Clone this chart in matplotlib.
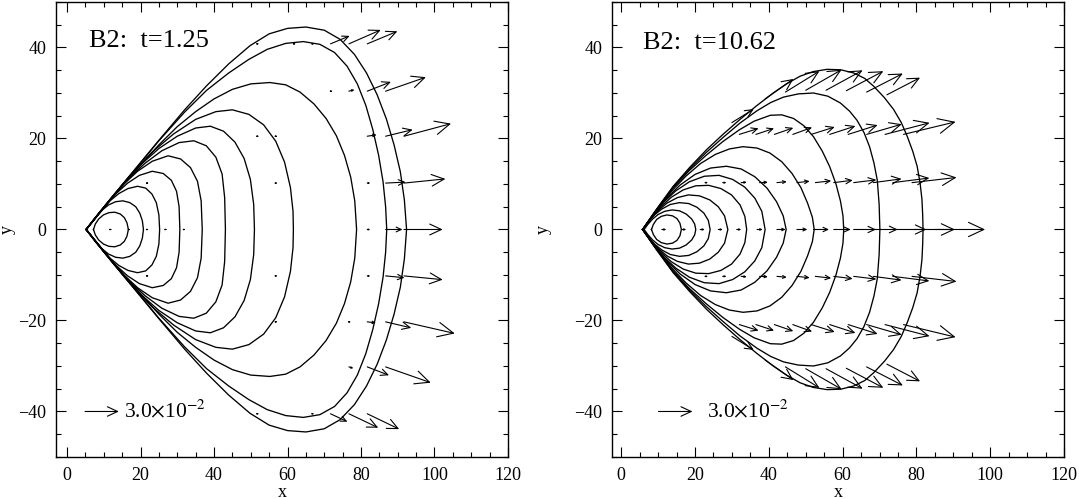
import matplotlib
matplotlib.use('Agg')
import math
import matplotlib.pyplot as plt
from matplotlib.patches import FancyArrowPatch
from matplotlib.ticker import MultipleLocator

plt.rcParams['font.family'] = ['Liberation Serif', 'DejaVu Serif']
plt.rcParams['mathtext.fontset'] = 'stix'

# ---- contour lines, upper half (x, y); the lower half is the mirror image ----
# left panel, t = 1.25
L1 = [(7.2, 0), (7.7, 1.2), (8.6, 2.3), (9.9, 3.2), (11.4, 3.7), (13, 3.8), (14.5, 3.4), (15.6, 2.6),
      (16.3, 1.5), (16.7, 0)]
L2 = [(5.3, 0), (6.5, 1.3), (8, 2.9), (9.6, 4.3), (11.3, 5.4), (13.2, 6.1), (15.2, 6.3), (17.1, 5.9),
      (18.7, 5), (19.8, 3.6), (20.5, 1.9), (20.8, 0)]
L3 = [(5.2, 0), (7.2, 2.1), (9.4, 4.3), (11.7, 6.3), (14.1, 7.9), (16.6, 9), (19.2, 9.5), (21.4, 9.1),
      (23.1, 7.8), (24.3, 5.9), (25, 3.2), (25.2, 0)]
L4 = [(5.2, 0), (7.8, 2.7), (10.6, 5.5), (13.5, 8), (16.5, 10.2), (19.7, 11.9), (23.2, 12.8), (26.2, 12.3),
      (28.4, 10.8), (29.8, 8.4), (30.5, 5), (30.7, 0)]
L5 = [(5.2, 0), (8.5, 3.4), (12, 6.9), (15.5, 10), (19.2, 12.8), (23.2, 15), (27.5, 16.2), (30.9, 15.5),
      (33.6, 13.6), (35.5, 10.6), (36.5, 6.3), (36.8, 0)]
L6 = [(5.2, 0), (9, 3.9), (13, 7.9), (17, 11.4), (21.3, 14.6), (25.8, 17.3), (30.5, 19.1), (34.5, 19.5),
      (37.9, 18.4), (40.5, 15.9), (42.2, 12.2), (42.9, 7), (43.1, 0)]
L7 = [(5.2, 0), (10, 4.8), (15, 9.8), (20, 14.2), (25, 17.8), (30, 20.5), (35, 22.3), (39, 22.7), (42.6, 21.6),
      (45.7, 19.2), (48.2, 15.6), (49.9, 11), (50.8, 5.5), (51, 0)]
L8 = [(5.2, 0), (11, 5.8), (17, 11.7), (23, 16.9), (29, 21), (35, 24.2), (40.5, 25.9), (45, 26.3), (49.5, 25.3),
      (53.5, 23), (56.8, 19.4), (59.2, 14.8), (60.8, 9.2), (61.5, 4), (61.6, 0)]
L9 = [(5.2, 0), (15, 9.6), (25, 18.6), (30, 22.6), (35, 25.9), (40, 28.7), (45, 30.8), (50, 32), (55.2, 32.3),
      (59.5, 31.8), (63.4, 30.2), (67.2, 27.6), (70.5, 24.4), (73.3, 20.6), (75.5, 16.3), (77.2, 11.5),
      (78.3, 6.3), (78.8, 0)]
L10 = [(5.2, 0), (15, 9.8), (25, 19.5), (32, 25.8), (38, 30.6), (44, 34.4), (49.5, 37.4), (54.5, 39.6),
       (59.5, 40.9), (64.3, 41.3), (68.8, 40.7), (72.8, 38.9), (76.2, 35.9), (79, 32), (81.3, 27.3), (83.2, 22),
       (84.8, 16.3), (86, 10.5), (86.7, 5), (87, 0)]
L11 = [(5.2, 0), (15, 9.8), (25, 19.6), (32, 26.3), (38, 31.6), (44, 36.4), (49.8, 40.4), (55, 43), (60, 44.2),
       (65, 44.5), (70, 43.8), (74.3, 41.8), (78.2, 38.5), (81.5, 34.4), (84.4, 29.6), (86.9, 24.3), (89, 18.6),
       (90.7, 12.7), (91.8, 6.5), (92.4, 0)]

# right panel, t = 10.62
R1 = [(8.2, 0), (8.7, 1.1), (9.6, 2.2), (10.9, 2.9), (12.4, 3.2), (13.9, 3), (15.1, 2.4), (15.9, 1.4), (16.3, 0)]
R2 = [(6.2, 0), (7.2, 1.1), (8.5, 2.3), (10, 3.3), (11.8, 4), (13.8, 4.3), (15.8, 4.1), (17.6, 3.4), (19.1, 2.3),
      (19.9, 1.2), (20.2, 0)]
R3 = [(5.8, 0), (7.3, 1.6), (9, 3.2), (11, 4.5), (13.3, 5.5), (15.8, 5.9), (18.3, 5.7), (20.5, 4.9), (22.4, 3.6),
      (23.6, 2), (24.1, 0)]
R4 = [(5.8, 0), (7.7, 2.1), (9.9, 4.1), (12.4, 5.8), (15.2, 7), (18.2, 7.6), (21.2, 7.4), (24, 6.5), (26.3, 5),
      (28, 3), (28.9, 0)]
R5 = [(5.8, 0), (8.1, 2.6), (10.7, 5), (13.6, 7.1), (16.8, 8.7), (20.2, 9.6), (23.7, 9.7), (27, 9), (29.9, 7.6),
      (32.2, 5.4), (33.5, 2.9), (34, 0)]
R6 = [(5.8, 0), (8.5, 3.1), (11.5, 6), (14.8, 8.5), (18.5, 10.5), (22.5, 11.7), (26.5, 11.9), (30.2, 11),
      (33.5, 9.3), (36.2, 6.9), (38.1, 4), (39, 0)]
R7 = [(5.8, 0), (8.9, 3.6), (12.3, 6.9), (16, 9.8), (20, 12.1), (24.2, 13.5), (28.5, 13.9), (32.5, 13.3),
      (36.2, 11.6), (39.5, 9.1), (42.1, 6.1), (43.9, 3), (44.7, 0)]
R8 = [(5.8, 0), (9.5, 4.1), (13.5, 8.3), (17.5, 11.7), (21.5, 14.5), (25.5, 16.5), (29.3, 17.7), (33, 18.2),
      (36.8, 17.9), (40.3, 16.8), (43.5, 14.9), (46.3, 12.3), (48.7, 9.2), (50.5, 5.8), (51.8, 2.7), (52.3, 0)]
R9 = [(5.8, 0), (9.5, 4.2), (14, 9.1), (18.5, 13), (23, 16.3), (27.5, 19.3), (32, 21.9), (36, 23.8), (40.4, 25.1),
      (43.5, 25.2), (46.7, 24.4), (49.5, 22.8), (52.1, 20.4), (54.5, 17.2), (56.5, 13.8), (58.2, 10),
      (59.4, 6.3), (60.1, 3), (60.3, 0)]
R10 = [(5.8, 0), (9.5, 4.3), (14.1, 9.4), (18.5, 13.3), (23, 16.9), (27.7, 20.3), (32.2, 23.4), (36.8, 26.1),
       (40.5, 27.9), (44, 29.1), (48, 29.8), (52.1, 30), (56, 29.3), (59.4, 27.8), (61.9, 26), (63.9, 24),
       (65.8, 21.3), (67.3, 18.2), (68.5, 14.6), (69.4, 10.8), (69.9, 5.5), (70.1, 0)]
R11 = [(5.8, 0), (9.5, 4.4), (14.1, 9.5), (18.5, 13.6), (23.2, 17.6), (27.7, 21), (32.2, 24.2), (36.7, 27.2),
       (41.2, 30), (44.8, 32), (48.5, 33.7), (52, 34.7), (55.8, 35.2), (59.5, 35.1), (63, 34.4), (66, 33.2),
       (68.4, 31.5), (71.3, 29), (73.8, 26.4), (75.9, 23.5), (77.5, 20.5), (79, 17.2), (80.2, 13.9), (81, 10.2),
       (81.5, 6.6), (81.7, 3.2), (81.8, 0)]

left_curves = [L1, L2, L3, L4, L5, L6, L7, L8, L9, L10, L11]
right_curves = [R1, R2, R3, R4, R5, R6, R7, R8, R9, R10, R11]

# ---- velocity arrows: tail position and (u, v) in units of 1e-2 ----
left_ax = [71.7, 76.7, 81.7, 76.7, 81.7, 86.7, 81.7, 86.7, 91.7, 81.7, 86.7, 91.7, 81.7, 86.7, 91.7,
           81.7, 86.7, 91.7, 81.7, 86.7, 91.7, 76.7, 81.7, 86.7, 71.7, 76.7, 81.7]
left_ay = [40.8, 40.8, 40.8, 30.4, 30.4, 30.4, 20.5, 20.5, 20.5, 10.2, 10.2, 10.2, 0, 0, 0,
           -10.2, -10.2, -10.2, -20.3, -20.3, -20.3, -30.2, -30.2, -30.2, -40.5, -40.5, -40.5]
left_au = [1.70, 2.83, 2.67, 0.50, 2.10, 3.57, 0.83, 2.40, 4.17, 0.27, 1.77, 3.67, 0.27, 1.50, 3.43,
           0.27, 1.67, 3.43, 0.77, 2.27, 4.50, 0.40, 1.93, 4.00, 1.50, 2.60, 2.83]
left_av = [0.57, 1.00, 0.90, 0.10, 0.67, 1.00, 0.10, 0.47, 0.90, 0.00, 0.07, 0.30, 0, 0, 0,
           0.00, -0.13, -0.27, -0.07, -0.43, -0.83, -0.10, -0.60, -1.13, -0.57, -1.00, -1.10]

# nearly zero vectors that show up as dots
left_dot_x = [11.7, 16.7, 21.7, 26.7, 31.7, 21.7, 56.7, 51.7, 56.7, 71.7, 51.7, 61.7, 66.7,
              21.7, 56.7, 56.7, 76.7, 51.7, 66.7]
left_dot_y = [0, 0, 0, 0, 0, 10.2, 10.2, 20.5, 20.5, 30.4, 40.8, 40.8, 40.8,
              -10.2, -10.2, -20.3, -20.3, -40.5, -40.5]

right_ax = [30, 39, 44.5, 50, 55.5, 61, 66.5, 72,
            32, 36.5, 41.5, 46.5, 51.5, 56.5, 61.5, 66.5, 71.5, 76.5,
            22.7, 27.5, 32.5, 37.5, 42.2, 47.6, 52.6, 57.6, 63, 68.3, 73.6, 78.8,
            11, 16.4, 21.4, 26.3, 31.3, 36.8, 42.2, 47.6, 52.1, 57.6, 63, 68.5, 73.9, 79.3, 84.8,
            22.7, 27.5, 32.5, 37.5, 42.2, 47.6, 52.6, 57.6, 63, 68.3, 73.6, 78.8,
            32, 36.5, 41.5, 46.5, 51.5, 56.5, 61.5, 66.5, 71.5, 76.5,
            30, 39, 44.5, 50, 55.5, 61, 66.5, 72]
right_ay = [23.5, 28.7, 30.2, 30.6, 30.6, 30.5, 30.2, 29.6,
            20.9, 20.9, 20.9, 20.9, 20.9, 20.9, 20.9, 20.9, 20.9, 20.9,
            10.3, 10.3, 10.3, 10.3, 10.3, 10.3, 10.3, 10.3, 10.3, 10.3, 10.3, 10.3,
            0, 0, 0, 0, 0, 0, 0, 0, 0, 0, 0, 0, 0, 0, 0,
            -10.3, -10.3, -10.3, -10.3, -10.3, -10.3, -10.3, -10.3, -10.3, -10.3, -10.3, -10.3,
            -20.9, -20.9, -20.9, -20.9, -20.9, -20.9, -20.9, -20.9, -20.9, -20.9,
            -23.5, -28.7, -30.2, -30.6, -30.6, -30.5, -30.2, -29.6]
right_au = [1.93, 2.50, 3.00, 3.17, 3.23, 3.27, 3.20, 2.93,
            1.70, 1.60, 1.67, 1.70, 2.07, 2.27, 2.60, 3.10, 3.93, 4.60,
            0.27, 0.33, 0.50, 0.73, 0.87, 1.13, 1.40, 1.67, 2.00, 2.50, 3.23, 3.93,
            0.40, 0.40, 0.40, 0.40, 0.40, 0.50, 0.77, 0.93, 1.37, 1.50, 1.97, 2.10, 2.87, 3.63, 4.50,
            0.27, 0.33, 0.50, 0.73, 0.87, 1.13, 1.40, 1.67, 2.00, 2.50, 3.23, 3.93,
            1.70, 1.60, 1.67, 1.70, 2.07, 2.27, 2.60, 3.10, 3.93, 4.60,
            1.93, 2.50, 3.00, 3.17, 3.23, 3.27, 3.20, 2.93]
right_av = [0.97, 1.43, 1.50, 1.47, 1.43, 1.40, 1.33, 1.23,
            0.43, 0.43, 0.47, 0.50, 0.53, 0.60, 0.67, 0.73, 0.83, 0.90,
            0.00, 0.00, 0.03, 0.03, 0.07, 0.10, 0.13, 0.17, 0.20, 0.27, 0.33, 0.37,
            0, 0, 0, 0, 0, 0, 0, 0, 0, 0, 0, 0, 0, 0, 0,
            0.00, 0.00, -0.03, -0.03, -0.07, -0.10, -0.13, -0.17, -0.20, -0.27, -0.33, -0.37,
            -0.43, -0.43, -0.47, -0.50, -0.53, -0.60, -0.67, -0.73, -0.83, -0.90,
            -0.97, -1.43, -1.50, -1.47, -1.43, -1.40, -1.33, -1.23]

key_u = 3.0
panel_titles = ['B2:  t=1.25', 'B2:  t=10.62']

ARROW_SCALE = 3.07  # data units of x per 1e-2 of velocity

fig = plt.figure(figsize=(10.79, 4.99), dpi=100)
axL = fig.add_axes([0.0519, 0.0842, 0.4189, 0.9118])
axR = fig.add_axes([0.5672, 0.0842, 0.4189, 0.9118])


def setup(ax, x0, ylab_x):
    ax.set_xlim(x0, 120)
    ax.set_ylim(-50, 50)
    ax.xaxis.set_major_locator(MultipleLocator(20))
    ax.xaxis.set_minor_locator(MultipleLocator(5))
    ax.yaxis.set_major_locator(MultipleLocator(20))
    ax.yaxis.set_minor_locator(MultipleLocator(5))
    ax.tick_params(which='both', direction='in', top=True, right=True, width=0.8, labelsize=13, pad=7)
    ax.tick_params(which='major', length=7)
    ax.tick_params(which='minor', length=3.5)
    for s in ax.spines.values():
        s.set_linewidth(1.0)
    ax.set_xlabel('x', fontsize=13)
    ax.set_ylabel('y', fontsize=13)
    ax.xaxis.set_label_coords(0.5, -0.059)
    ax.yaxis.set_label_coords(ylab_x, 0.5)


def draw_curves(ax, curves):
    for c in curves:
        lower = [(x, -y) for x, y in reversed(c[:-1])]
        pts = c + lower
        ax.plot([p[0] for p in pts], [p[1] for p in pts], color='black', lw=0.95)


def draw_arrows(ax, xs, ys, us, vs):
    for x0, y0, u, v in zip(xs, ys, us, vs):
        x1 = x0 + u * ARROW_SCALE
        y1 = y0 + v * ARROW_SCALE
        p0 = ax.transData.transform((x0, y0))
        p1 = ax.transData.transform((x1, y1))
        L = math.hypot(p1[0] - p0[0], p1[1] - p0[1]) * 72 / fig.dpi
        hl = 0.30 * L / 10
        hw = 0.14 * L / 10
        ax.add_patch(FancyArrowPatch((x0, y0), (x1, y1),
                                     arrowstyle='->,head_length=%.3f,head_width=%.3f' % (hl, hw),
                                     mutation_scale=10, lw=0.8, color='black',
                                     shrinkA=0, shrinkB=0))


setup(axL, -3, -0.088)
setup(axR, -2.5, -0.133)

draw_curves(axL, left_curves)
draw_curves(axR, right_curves)

draw_arrows(axL, left_ax, left_ay, left_au, left_av)
draw_arrows(axL, left_dot_x, left_dot_y, [0.15] * len(left_dot_x), [0] * len(left_dot_x))
draw_arrows(axR, right_ax, right_ay, right_au, right_av)

# reference arrow
draw_arrows(axL, [4.9], [-40], [key_u], [0])
draw_arrows(axR, [10.1], [-40], [key_u], [0])
axL.text(15.6, -40, r'3.0$\times$10$^{-2}$', fontsize=15.5, va='center', ha='left')
axR.text(23.2, -40, r'3.0$\times$10$^{-2}$', fontsize=15.5, va='center', ha='left')

axL.text(6, 41.5, panel_titles[0], fontsize=19, va='center', ha='left')
axR.text(6, 41, panel_titles[1], fontsize=19, va='center', ha='left')

fig.savefig('out.png', dpi=100)
